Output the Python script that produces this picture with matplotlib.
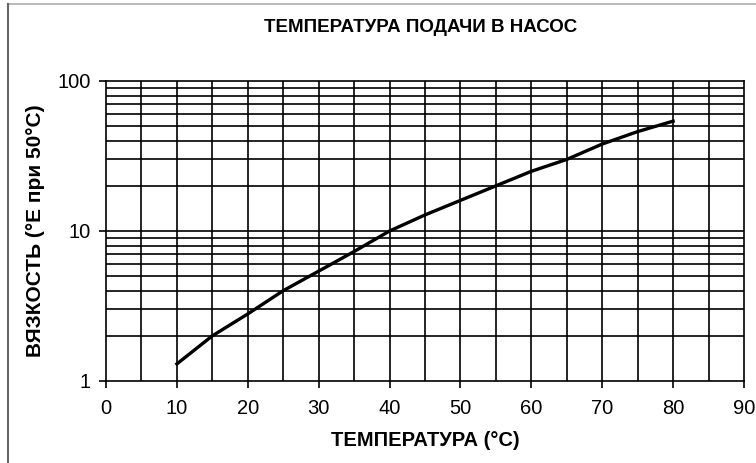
import numpy as np
import matplotlib
matplotlib.use('Agg')
import matplotlib.pyplot as plt
from matplotlib.lines import Line2D
from matplotlib.ticker import FixedLocator, NullFormatter

plt.rcParams['font.family'] = ['Liberation Sans', 'DejaVu Sans']

# data
temp = [10, 15, 20, 25, 30, 35, 40, 45, 50, 55, 60, 65, 70, 75, 80]
visc = [1.3, 2.0, 2.8, 4.0, 5.4, 7.3, 10.0, 12.8, 16.0, 20.0, 25.0, 30.0, 38.0, 46.0, 54.0]

x_ticks = [0, 10, 20, 30, 40, 50, 60, 70, 80, 90]
y_ticks = [1, 10, 100]
y_labels = ['1', '10', '100']

title = 'ТЕМПЕРАТУРА ПОДАЧИ В НАСОС'
xlabel = 'ТЕМПЕРАТУРА (°C)'
ylabel = 'ВЯЗКОСТЬ (°E при 50°C)'

#==============================================================================
fig = plt.figure(figsize=(7.56, 4.63), dpi=100)
ax = fig.add_axes([106/756, 1 - 381/463, 638/756, 300/463])

ax.set_yscale('log')
ax.set_xlim(0, 90)
ax.set_ylim(1, 100)

# grid: vertical every 5, horizontal on 1..9 of every decade
for xv in range(5, 90, 5):
    ax.axvline(xv, color='black', linewidth=1.2, zorder=1)
for dec in [1, 10]:
    for m in range(2, 10):
        ax.axhline(dec * m, color='black', linewidth=1.2, zorder=1)
ax.axhline(10, color='black', linewidth=1.2, zorder=1)

ax.plot(temp, visc, color='black', linewidth=2.4, zorder=3)

for s in ax.spines.values():
    s.set_linewidth(1.2)
    s.set_color('black')

ax.xaxis.set_major_locator(FixedLocator(x_ticks))
ax.yaxis.set_major_locator(FixedLocator(y_ticks))
ax.set_yticklabels(y_labels)
ax.yaxis.set_minor_locator(FixedLocator([]))
ax.yaxis.set_minor_formatter(NullFormatter())
ax.tick_params(axis='both', which='major', direction='out', length=5,
               width=1.2, color='black', labelsize=14.5)
ax.tick_params(axis='x', pad=8)
ax.tick_params(axis='y', pad=6)

ax.set_xlabel(xlabel, fontsize=14.5, fontweight='bold', labelpad=9)
ax.set_ylabel(ylabel, fontsize=15, fontweight='bold', labelpad=9)
fig.text(0.557, 1 - 28/463, title, ha='center', va='center',
         fontsize=13.5, fontweight='bold')

# outer frame (top and left only)
fig.add_artist(Line2D([8/756, 1], [1 - 4/463, 1 - 4/463], color='#bbbbbb',
                      linewidth=1.5, transform=fig.transFigure))
fig.add_artist(Line2D([8/756, 8/756], [0, 1 - 4/463], color='#666666',
                      linewidth=1.5, transform=fig.transFigure))

fig.savefig('out.png', dpi=100)
